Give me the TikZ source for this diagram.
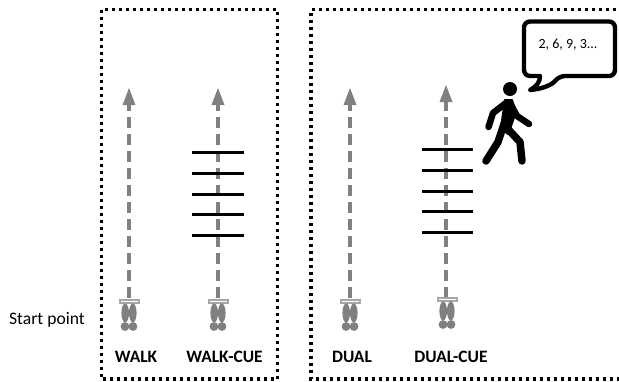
\documentclass[tikz,border=0pt]{standalone}
\usepackage{fontspec}
\setmainfont{Carlito}
\usepackage{tikz}
\usetikzlibrary{arrows.meta}
\usetikzlibrary{positioning}
\definecolor{trackgrey}{RGB}{128,128,128}
\tikzset{panel/.style = {draw, line width = 3.8, dash pattern = on 3 off 4}}
\tikzset{track/.style = {draw = trackgrey, line width = 3.1, dash pattern = on 11 off 6}}
\tikzset{trackhead/.style = {fill = trackgrey, draw = none}}
\tikzset{rung/.style = {draw, line width = 3}}
\tikzset{label/.style = {font = \fontsize{17.4}{18}\selectfont\bfseries, inner sep = 0}}
\tikzset{limb/.style = {draw, line width = 6.5, line cap = round, line join = round}}
\tikzset{startfoot/.pic = {
    \draw [draw = trackgrey!70, line width = 2, fill = white] (-9.5, 0) rectangle (9.5, 2.6);
    \fill [trackgrey] (-3.8, 13) ellipse (3.8 and 9.5);
    \fill [trackgrey] (3.8, 13) ellipse (3.8 and 9.5);
    \fill [trackgrey] (-4, 26.5) circle (4.4);
    \fill [trackgrey] (4, 26.5) circle (4.4);
}}
\begin{document}
\begin{tikzpicture}[x = 1pt, y = -1pt]
    \useasboundingbox (0, 0) rectangle (619, 381);

    \draw [panel] (101.5, 9.5) rectangle (277.5, 379);
    \draw [panel] (623, 9.5) -- (311, 9.5) -- (311, 379) -- (623, 379);

    % tracks
    \foreach \name/\xpos/\ytop in {walk/129/88, walkcue/218/88, dual/350/88, dualcue/446/85} {
      \coordinate (\name top) at (\xpos, \ytop + 17);
      \coordinate (\name start) at (\xpos, 298);
      \draw [track] (\name start) -- (\name top);
      \fill [trackhead] (\xpos, \ytop) -- (\xpos + 6.5, \ytop + 17) -- (\xpos - 6.5, \ytop + 17) -- cycle;
    }
    \pic at (129, 300) {startfoot};
    \pic at (218, 300) {startfoot};
    \pic at (350, 300) {startfoot};
    \pic at (447, 298) {startfoot};

    % cue lines
    \foreach \ypos in {152, 173, 194, 214, 235}
      \draw [rung] (192, \ypos) -- (244, \ypos);
    \foreach \ypos in {149, 170, 191, 211, 232}
      \draw [rung] (422, \ypos) -- (473, \ypos);

    \node (startlabel) at (47, 319.5) [font = \fontsize{17.6}{18}\selectfont, inner sep = 0] {Start point};
    \node (walklabel) at (136, 357) [label] {WALK};
    \node (walkcuelabel) at (224.5, 357) [label] {WALK-CUE};
    \node (duallabel) at (352, 357) [label] {DUAL};
    \node (dualcuelabel) at (451, 357) [label] {DUAL-CUE};

    % walker
    \fill (510, 89) circle (7);
    \fill [line join = round, draw, line width = 2] (505, 100) -- (512, 100) -- (516, 112) -- (511, 126) -- (508, 134) -- (501, 128) -- cycle;
    \draw [limb] (506, 103) -- (493, 113) -- (488.5, 127);
    \draw [limb] (511, 105) -- (517, 116) -- (529, 124);
    \draw [limb, line width = 7.5] (504, 124) -- (498, 142) -- (486, 161);
    \draw [limb, line width = 7.5] (506, 127) -- (520, 142) -- (522, 161);

    % speech bubble
    \draw [line width = 4.4, line join = round, fill = white, rounded corners = 6]
      (524, 21.5) -- (615, 21.5) -- (615, 76) -- (559, 76)
      [sharp corners] .. controls (552, 85) and (542, 89) .. (530, 90) .. controls (537, 86) and (540, 82) .. (540, 76)
      [rounded corners = 6] -- (524, 76) -- cycle;
    \node (digits) at (568, 45) [font = \fontsize{14}{14}\selectfont, inner sep = 0] {2, 6, 9, 3...};
\end{tikzpicture}
\end{document}
